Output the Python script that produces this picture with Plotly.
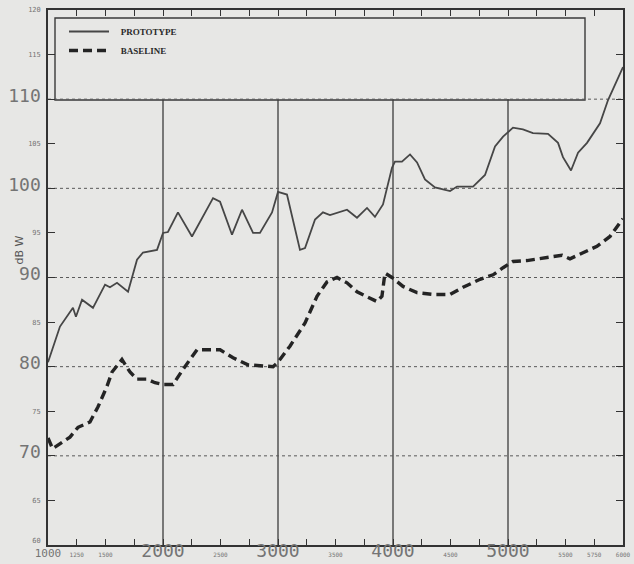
import plotly.graph_objects as go

# Frequency (Hz) and level (dB W) for the two systems
proto_freq = [1000, 1104, 1217, 1243, 1296, 1391, 1496, 1539, 1600, 1696, 1774, 1826, 1948,
              2000, 2043, 2130, 2252, 2435, 2496, 2600, 2687, 2730, 2783, 2843, 2948, 3000,
              3078, 3191, 3235, 3322, 3391, 3452, 3600, 3687, 3774, 3843, 3913, 3991, 4017,
              4078, 4148, 4209, 4278, 4365, 4496, 4557, 4696, 4800, 4887, 4957, 5043, 5130,
              5217, 5348, 5435, 5478, 5548, 5609, 5687, 5800, 5870, 6000]
proto_db = [80.5, 84.5, 86.6, 85.6, 87.5, 86.6, 89.2, 88.9, 89.4, 88.4, 92.0, 92.8, 93.1,
            95.0, 95.1, 97.3, 94.6, 98.9, 98.5, 94.8, 97.6, 96.5, 95.0, 95.0, 97.3, 99.6,
            99.3, 93.1, 93.3, 96.5, 97.3, 97.0, 97.6, 96.7, 97.8, 96.8, 98.2, 102.3, 103.0,
            103.0, 103.8, 102.9, 101.0, 100.1, 99.7, 100.2, 100.2, 101.5, 104.7, 105.8, 106.8, 106.6,
            106.2, 106.1, 105.1, 103.5, 102.0, 104.0, 105.1, 107.3, 109.9, 113.6]

base_freq = [1000, 1040, 1191, 1261, 1365, 1435, 1513, 1557, 1643, 1713, 1774, 1861, 1930,
             2000, 2087, 2174, 2296, 2496, 2609, 2739, 2957, 3000, 3104, 3235, 3339, 3426,
             3513, 3600, 3687, 3774, 3861, 3904, 3930, 3991, 4087, 4209, 4348, 4496, 4609,
             4757, 4870, 4957, 5043, 5165, 5304, 5470, 5539, 5652, 5774, 5887, 6000]
base_db = [72.0, 70.8, 72.1, 73.2, 73.8, 75.5, 77.8, 79.4, 80.8, 79.4, 78.6, 78.6, 78.2,
           78.0, 78.0, 79.7, 81.9, 81.9, 81.0, 80.2, 80.0, 80.5, 82.3, 84.9, 87.9, 89.5,
           90.0, 89.4, 88.4, 87.9, 87.3, 87.9, 90.5, 90.0, 89.0, 88.3, 88.1, 88.1, 88.9,
           89.8, 90.3, 91.1, 91.8, 91.9, 92.2, 92.5, 92.1, 92.8, 93.5, 94.6, 96.6]

x_tick_vals = [1000, 1250, 1500, 1750, 2000, 2250, 2500, 2750, 3000, 3250, 3500, 3750,
               4000, 4250, 4500, 4750, 5000, 5250, 5500, 5750, 6000]
x_tick_text = ["1000", "1250", "1500", "", "2000", "", "2500", "", "3000", "", "3500", "",
               "4000", "", "4500", "", "5000", "", "5500", "5750", "6000"]
x_big = {"2000", "3000", "4000", "5000"}
x_mid = {"1000"}

y_tick_vals = [60, 65, 70, 75, 80, 85, 90, 95, 100, 105, 110, 115, 120]
y_tick_text = ["60", "65", "70", "75", "80", "85", "90", "95", "100", "105", "110", "115", "120"]
y_big = {"70", "80", "90", "100", "110"}

x_grid = [2000, 3000, 4000, 5000]
y_grid = [70, 80, 90, 100, 110]

PAPER = "#e7e7e5"
INK = "#333333"
LABEL = "#747474"


def styled(label, big, mid=()):
    if label in big:
        return f'<span style="font-size:18px">{label}</span>'
    if label in mid:
        return f'<span style="font-size:11px">{label}</span>'
    return label


y_labels = [styled(t, y_big) for t in y_tick_text]
# lift the bottom label clear of the corner "1000"
y_labels[0] = y_labels[0] + "<br>\u00a0"

fig = go.Figure()

fig.add_trace(go.Scatter(
    x=proto_freq, y=proto_db, mode="lines", name="<b>\u00a0\u00a0\u00a0PROTOTYPE</b>",
    line=dict(color="#464646", width=1.8),
))
fig.add_trace(go.Scatter(
    x=base_freq, y=base_db, mode="lines", name="<b>\u00a0\u00a0\u00a0BASELINE</b>",
    line=dict(color="#242424", width=3.4, dash="9px,5px"),
))

shapes = []
for gx in x_grid:
    shapes.append(dict(type="line", xref="x", yref="y", x0=gx, x1=gx, y0=60, y1=110,
                       line=dict(color="#3c3c3c", width=1.3), layer="below"))
for gy in y_grid:
    shapes.append(dict(type="line", xref="x", yref="y", x0=1000, x1=6000, y0=gy, y1=gy,
                       line=dict(color="#5a5a5a", width=1, dash="dot"), layer="below"))
# legend frame
shapes.append(dict(type="rect", xref="paper", yref="paper",
                   x0=(55 - 48) / 575, x1=(585 - 48) / 575,
                   y0=1 - (100 - 10) / 535, y1=1 - (18 - 10) / 535,
                   line=dict(color="#3a3a3a", width=1.4), layer="below"))

fig.update_layout(
    width=634, height=564,
    margin=dict(l=48, r=11, t=10, b=19),
    paper_bgcolor=PAPER, plot_bgcolor=PAPER,
    font=dict(family="DejaVu Sans Mono", color=LABEL, size=7),
    showlegend=True,
    legend=dict(
        x=(64 - 48) / 575, y=1 - (17 - 10) / 535, xanchor="left", yanchor="top",
        bgcolor="rgba(0,0,0,0)", borderwidth=0,
        font=dict(family="Liberation Serif", size=9, color="#2a2a2a"),
        itemwidth=40, tracegroupgap=0,
    ),
    shapes=shapes,
    xaxis=dict(
        range=[1000, 6000], tickmode="array", tickvals=x_tick_vals,
        ticktext=[styled(t, x_big, x_mid) for t in x_tick_text],
        ticks="inside", ticklen=6, tickcolor=INK, tickwidth=1,
        showline=True, linecolor=INK, linewidth=1.6, mirror="ticks",
        showgrid=False, zeroline=False, automargin=False,
        tickfont=dict(family="DejaVu Sans Mono", size=6, color=LABEL),
        ticklabelstandoff=3,
    ),
    yaxis=dict(
        range=[60, 120], tickmode="array", tickvals=y_tick_vals,
        ticktext=y_labels,
        ticks="inside", ticklen=7, tickcolor=INK, tickwidth=1,
        showline=True, linecolor=INK, linewidth=1.6, mirror="ticks",
        showgrid=False, zeroline=False, automargin=False,
        tickfont=dict(family="DejaVu Sans Mono", size=7, color=LABEL),
        ticklabelstandoff=4,
    ),
    annotations=[dict(
        text="dB W", xref="paper", yref="paper",
        x=-38 / 575, y=1 - (250 - 10) / 535, showarrow=False, textangle=-90,
        font=dict(family="DejaVu Sans", size=11, color="#555555"),
    )],
)

fig.write_html("out.html")
